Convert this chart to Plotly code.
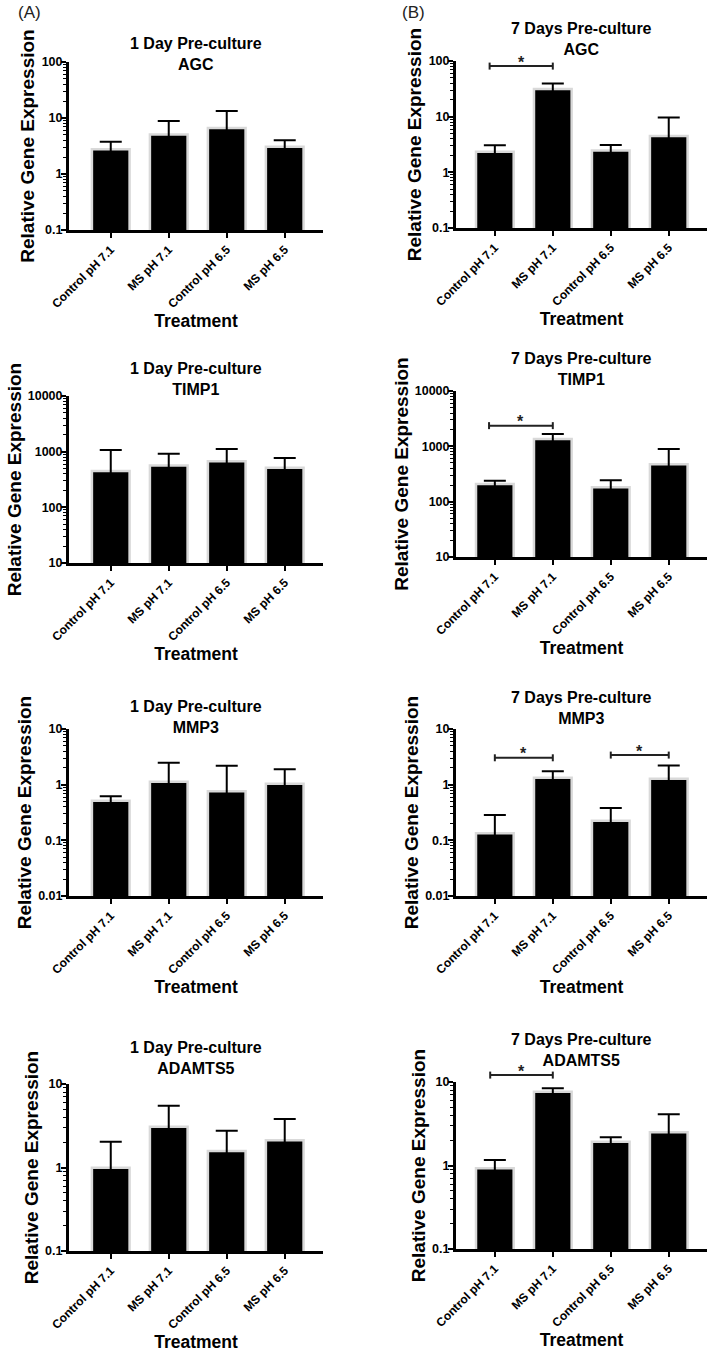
import math
import plotly.graph_objects as go

# ---------------- data ----------------
categories = ["Control pH 7.1", "MS pH 7.1", "Control pH 6.5", "MS pH 6.5"]
genes = ["AGC", "TIMP1", "MMP3", "ADAMTS5"]
timepoints = ["1 Day Pre-culture", "7 Days Pre-culture"]

day1_agc = [2.76, 5.1, 6.6, 3.08]
day1_agc_err = [1.02, 3.7, 6.7, 0.92]
day7_agc = [2.34, 31.3, 2.48, 4.49]
day7_agc_err = [0.71, 8.3, 0.61, 5.2]

day1_timp1 = [449, 567, 670, 514]
day1_timp1_err = [620, 350, 444, 253]
day7_timp1 = [209, 1361, 182, 474]
day7_timp1_err = [31, 314, 62, 423]

day1_mmp3 = [0.514, 1.13, 0.758, 1.04]
day1_mmp3_err = [0.103, 1.34, 1.42, 0.86]
day7_mmp3 = [0.134, 1.33, 0.225, 1.28]
day7_mmp3_err = [0.150, 0.42, 0.155, 0.94]

day1_adamts5 = [0.995, 3.08, 1.58, 2.12]
day1_adamts5_err = [1.045, 2.42, 1.18, 1.69]
day7_adamts5 = [0.925, 7.65, 1.93, 2.50]
day7_adamts5_err = [0.235, 0.75, 0.25, 1.60]

# y-axis limits per gene (decades, log10)
gene_decades = {"AGC": (-1, 2), "TIMP1": (1, 4), "MMP3": (-2, 1), "ADAMTS5": (-1, 1)}

# significance comparisons (7-day panels): (from index, to index, bracket height)
sig_agc = [(0, 1, 81)]
sig_timp1 = [(0, 1, 2366)]
sig_mmp3 = [(0, 1, 3.04), (2, 3, 3.40)]
sig_adamts5 = [(0, 1, 12.1)]

# ---------------- layout / style ----------------
W, H = 709, 1353
FONT = "Liberation Sans, Arial, Helvetica, sans-serif"

panels = [
    # (gene, col, means, errs, sig)
    ("AGC", 0, day1_agc, day1_agc_err, []),
    ("AGC", 1, day7_agc, day7_agc_err, sig_agc),
    ("TIMP1", 0, day1_timp1, day1_timp1_err, []),
    ("TIMP1", 1, day7_timp1, day7_timp1_err, sig_timp1),
    ("MMP3", 0, day1_mmp3, day1_mmp3_err, []),
    ("MMP3", 1, day7_mmp3, day7_mmp3_err, sig_mmp3),
    ("ADAMTS5", 0, day1_adamts5, day1_adamts5_err, []),
    ("ADAMTS5", 1, day7_adamts5, day7_adamts5_err, sig_adamts5),
]

# pixel geometry of each plot area (left, right, top, bottom)
x_px = {0: (69, 323), 1: (456, 707)}
y_px = [
    ((62, 230), (61, 228)),
    ((396, 563), (391, 557)),
    ((729, 896), (729, 896)),
    ((1084, 1251), (1082, 1249)),
]
x_ranges = {0: [-0.72, 3.66], 1: [-0.67, 3.66]}
title_centers = [(53.5, 39.5), (379, 369), (717, 708), (1058, 1050)]
bracket_left_nudge = {("AGC", 0): -0.09, ("TIMP1", 0): -0.1, ("ADAMTS5", 0): -0.08}


def px_to_paper_y(p):
    return 1 - p / H


fig = go.Figure()
layout = dict(
    width=W, height=H,
    margin=dict(l=0, r=0, t=0, b=0, autoexpand=False),
    paper_bgcolor="white", plot_bgcolor="white",
    showlegend=False,
    font=dict(family=FONT, color="black"),
)
shapes = []
annotations = []

for i, (gene, col, means, errs, sig) in enumerate(panels):
    n = i + 1
    row = i // 2
    xs = "" if n == 1 else str(n)
    xname, yname = "x" + xs, "y" + xs
    fig.add_trace(go.Bar(
        x=categories, y=means,
        xaxis=xname, yaxis=yname,
        width=0.65,
        marker=dict(color="black", line=dict(color="#d9d9d9", width=2.5)),
        error_y=dict(type="data", symmetric=False, array=errs, arrayminus=means,
                     color="black", thickness=2, width=11),
        hoverinfo="skip",
    ))
    l, r = x_px[col]
    top, bot = y_px[row][col]
    d0, d1 = gene_decades[gene]
    layout["xaxis" + xs] = dict(
        domain=[l / W, r / W], anchor=yname, type="category",
        range=x_ranges[col], automargin=False,
        showline=True, linecolor="black", linewidth=3,
        ticks="outside", ticklen=5, tickwidth=2, tickcolor="black",
        tickangle=-45,
        tickfont=dict(family=FONT, size=12, color="black", weight="bold"),
        showgrid=False, zeroline=False,
        title=dict(text="Treatment", standoff=4,
                   font=dict(family=FONT, size=17.5, color="black", weight="bold")),
    )
    layout["yaxis" + xs] = dict(
        domain=[1 - bot / H, 1 - top / H], anchor=xname, type="log",
        range=[d0, d1], dtick=1, tickformat="~g", automargin=False,
        showline=True, linecolor="black", linewidth=3,
        ticks="outside", ticklen=5, tickwidth=2, tickcolor="black",
        ticklabelstandoff=-4,
        minor=dict(dtick="D1", ticks="outside", ticklen=3, tickwidth=1, tickcolor="black"),
        tickfont=dict(family=FONT, size=12.5, color="black", weight="bold"),
        showgrid=False, zeroline=False,
        title=dict(text="Relative Gene Expression", standoff=2,
                   font=dict(family=FONT, size=19, color="black", weight="bold")),
    )
    # panel title
    annotations.append(dict(
        text=f"{timepoints[col]}<br>{gene}", xref=xname + " domain", x=0.5,
        yref="paper", y=px_to_paper_y(title_centers[row][col]),
        xanchor="center", yanchor="middle", showarrow=False,
        font=dict(family=FONT, size=16, color="black", weight="bold"),
    ))
    # significance brackets
    xr0, xr1 = x_ranges[col]
    for k, (a, b, h) in enumerate(sig):
        xa = a + bracket_left_nudge.get((gene, k), 0.0)
        fx0 = (xa - xr0) / (xr1 - xr0)
        fx1 = (b - xr0) / (xr1 - xr0)
        fy = (math.log10(h) - d0) / (d1 - d0)
        lc = dict(color="#222222", width=2)
        shapes.append(dict(type="line", xref=xname + " domain", yref=yname + " domain",
                           x0=fx0, x1=fx1, y0=fy, y1=fy, line=lc, layer="above"))
        for fx in (fx0, fx1):
            shapes.append(dict(type="line", xref=xname + " domain", yref=yname + " domain",
                               x0=fx, x1=fx, ysizemode="pixel", yanchor=fy, y0=-3.5, y1=3.5,
                               line=lc, layer="above"))
        annotations.append(dict(
            text="*", xref=xname + " domain", yref=yname + " domain",
            x=(fx0 + fx1) / 2, y=fy, xanchor="center", yanchor="middle", yshift=4,
            showarrow=False, font=dict(family=FONT, size=16, color="#222222", weight="bold"),
        ))

# panel letters
annotations.append(dict(text="(A)", xref="paper", yref="paper", x=29 / W, y=px_to_paper_y(12),
                        xanchor="center", yanchor="middle", showarrow=False,
                        font=dict(family=FONT, size=17, color="#222222")))
annotations.append(dict(text="(B)", xref="paper", yref="paper", x=413 / W, y=px_to_paper_y(12),
                        xanchor="center", yanchor="middle", showarrow=False,
                        font=dict(family=FONT, size=17, color="#222222")))

layout["shapes"] = shapes
layout["annotations"] = annotations
fig.update_layout(**layout)
fig.write_html(
    "out.html",
    config={"displayModeBar": False},
    post_script="document.body.style.margin='0';document.body.style.overflow='hidden';",
)
